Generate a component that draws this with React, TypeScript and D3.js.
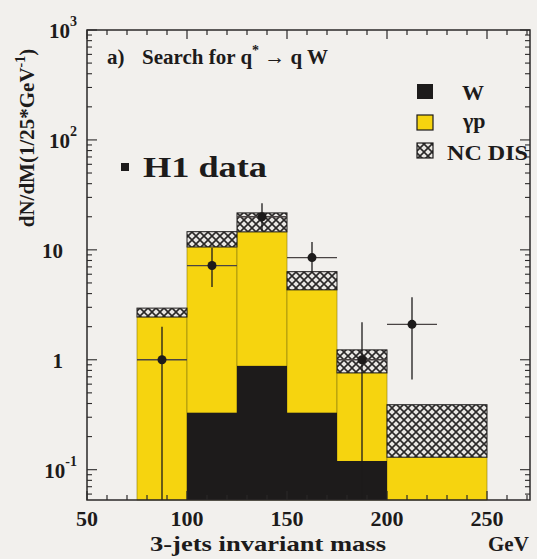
import React from 'react';
import * as d3 from 'd3';

// ————— histogram bins (GeV) —————
const binEdges = [75, 100, 125, 150, 175, 200, 250];
// stacked MC contributions per bin
const wSignal = [0, 0.33, 0.88, 0.33, 0.12, 0];
const gammaP  = [2.45, 10.3, 13.7, 4.0, 0.64, 0.13];
const ncDis   = [0.5, 4.0, 7.1, 2.0, 0.47, 0.26];

// ————— H1 data points —————
const dataMass  = [87.5, 112.5, 137.5, 162.5, 187.5, 212.5];
const dataValue = [1.0, 7.2, 20, 8.5, 1.0, 2.1];
const dataHigh  = [2.0, 10.4, 26.5, 11.8, 2.2, 3.7];
const dataLow   = [0, 4.6, 14.8, 6.2, 0, 0.66];
const massHalfBin = 12.5;

// ————— axes —————
const xTicks = [50, 100, 150, 200, 250];
const yTicks = [0.1, 1, 10, 100, 1000];
const yTickBase = ['10', '1', '10', '10', '10'];
const yTickExp  = ['-1', '', '', '2', '3'];

const FONT = '"Liberation Serif", "Times New Roman", serif';
const YELLOW = '#f6d40f';
const DARK = '#1d1b1b';

const App = () => {
  const fullW = 537;
  const fullH = 559;
  const margin = { top: 30, right: 7, bottom: 59, left: 87 };
  const left = margin.left;
  const right = fullW - margin.right;
  const top = margin.top;
  const bottom = fullH - margin.bottom;

  const x = d3.scaleLinear().domain([50, 271.5]).range([left, right]);
  const y = d3.scaleLog().domain([0.053, 1000]).range([bottom, top]);

  // cumulative stack: W, then gamma-p, then NC DIS on top
  const bins = binEdges.slice(0, -1).map((x0, i) => {
    const w = wSignal[i];
    const g = w + gammaP[i];
    const t = g + ncDis[i];
    return { x0, x1: binEdges[i + 1], w, g, t };
  });

  const yMin = y.domain()[0];
  const yPos = (v: number) => (v <= yMin ? bottom : y(v));

  const minorX = d3.range(50, 272, 10);
  const minorY = y.ticks().filter(v => v >= yMin);

  return (
    <div style={{ position: 'absolute', left: 0, top: 0 }}>
      <svg width={fullW} height={fullH} style={{ display: 'block', background: '#f2f0ed' }}>
        <defs>
          <pattern id="xhatch" width="8" height="8" patternUnits="userSpaceOnUse">
            <rect width="8" height="8" fill="#e9e7e4" />
            <path d="M0,0L8,8M8,0L0,8" stroke="#2a2828" strokeWidth="1.6" />
          </pattern>
        </defs>

        {/* yellow (W + gamma-p) */}
        {bins.map((b, i) => (
          <rect key={'g' + i}
            x={x(b.x0)} width={x(b.x1) - x(b.x0)}
            y={yPos(b.g)} height={bottom - yPos(b.g)}
            fill={YELLOW} stroke="#8a7a10" strokeWidth={0.6} />
        ))}
        {/* NC DIS hatched on top */}
        {bins.map((b, i) => (
          <rect key={'n' + i}
            x={x(b.x0)} width={x(b.x1) - x(b.x0)}
            y={yPos(b.t)} height={yPos(b.g) - yPos(b.t)}
            fill="url(#xhatch)" stroke={DARK} strokeWidth={1} />
        ))}
        {/* W signal */}
        {bins.filter(b => b.w > 0).map((b, i) => (
          <rect key={'w' + i}
            x={x(b.x0)} width={x(b.x1) - x(b.x0)}
            y={yPos(b.w)} height={bottom - yPos(b.w)}
            fill={DARK} />
        ))}

        {/* data points with error bars */}
        {dataMass.map((m, i) => (
          <g key={'d' + i} stroke={DARK} strokeWidth={1.3}>
            <line x1={x(m)} x2={x(m)} y1={yPos(dataHigh[i])} y2={yPos(dataLow[i])} />
            <line x1={x(m - massHalfBin)} x2={x(m + massHalfBin)} y1={y(dataValue[i])} y2={y(dataValue[i])}
              stroke="#4a4444" />
            <circle cx={x(m)} cy={y(dataValue[i])} r={4.5} fill={DARK} stroke="none" />
          </g>
        ))}

        {/* frame */}
        <rect x={left} y={top} width={right - left} height={bottom - top}
          fill="none" stroke="#2b2929" strokeWidth={1.5} />

        {/* x ticks, bottom and top */}
        {minorX.map(v => {
          const len = v % 50 === 0 ? 9 : 5;
          return (
            <g key={'xt' + v} stroke="#2b2929" strokeWidth={1.2}>
              <line x1={x(v)} x2={x(v)} y1={bottom} y2={bottom - len} />
              <line x1={x(v)} x2={x(v)} y1={top} y2={top + len} />
            </g>
          );
        })}
        {/* y ticks, left and right */}
        {minorY.map((v, i) => {
          const major = yTicks.includes(v);
          const len = major ? 10 : 5;
          return (
            <g key={'yt' + i} stroke="#2b2929" strokeWidth={1.1}>
              <line x1={left} x2={left + len} y1={y(v)} y2={y(v)} />
              <line x1={right} x2={right - len} y1={y(v)} y2={y(v)} />
            </g>
          );
        })}

        {/* x tick labels */}
        {xTicks.map(v => (
          <text key={'xl' + v} x={x(v)} y={526} textAnchor="middle"
            fontFamily={FONT} fontWeight="bold" fontSize={22} fill={DARK}>{v}</text>
        ))}
        {/* y tick labels */}
        {yTicks.map((v, i) => (
          <text key={'yl' + i} x={yTickExp[i] ? 77 : 63} y={y(v) + 8} textAnchor="end"
            fontFamily={FONT} fontWeight="bold" fontSize={21} fill={DARK}>
            {yTickBase[i]}
            {yTickExp[i] && <tspan dy={-12} fontSize={14}>{yTickExp[i]}</tspan>}
          </text>
        ))}

        {/* axis titles */}
        <text x={268} y={551} textAnchor="middle" fontFamily={FONT} fontWeight="bold"
          fontSize={21} fill={DARK} textLength={236} lengthAdjust="spacingAndGlyphs">
          3-jets invariant mass
        </text>
        <text x={488} y={551} fontFamily={FONT} fontWeight="bold" fontSize={21} fill={DARK}>GeV</text>
        <text transform="translate(34,138) rotate(-90)" textAnchor="middle" fontFamily={FONT}
          fontWeight="bold" fontSize={21} fill={DARK}>
          dN/dM(1/25*GeV<tspan dy={-9} fontSize={14}>-1</tspan><tspan dy={9}>)</tspan>
        </text>

        {/* panel title */}
        <text x={107} y={64} fontFamily={FONT} fontWeight="bold" fontSize={21} fill={DARK}>a)</text>
        <text x={142} y={64} fontFamily={FONT} fontWeight="bold" fontSize={21} fill={DARK}>
          Search for q<tspan dy={-9} fontSize={14}>*</tspan>
          <tspan dy={9}> → q W</tspan>
        </text>

        {/* H1 data label */}
        <rect x={121} y={163} width={8} height={8} fill={DARK} />
        <text x={143} y={177} fontFamily={FONT} fontWeight="bold" fontSize={30} fill={DARK}
          textLength={124} lengthAdjust="spacingAndGlyphs">H1 data</text>

        {/* legend */}
        <rect x={417} y={84} width={16} height={15} fill={DARK} />
        <text x={462} y={100} fontFamily={FONT} fontWeight="bold" fontSize={22} fill={DARK}>W</text>
        <rect x={417} y={115} width={16} height={15} fill={YELLOW} stroke={DARK} strokeWidth={1.2} />
        <text x={463} y={128} fontFamily={FONT} fontWeight="bold" fontSize={22} fill={DARK}>γp</text>
        <rect x={417} y={143} width={16} height={15} fill="url(#xhatch)" stroke={DARK} strokeWidth={1.2} />
        <text x={447} y={160} fontFamily={FONT} fontWeight="bold" fontSize={22} fill={DARK}
          textLength={81} lengthAdjust="spacingAndGlyphs">NC DIS</text>
      </svg>
    </div>
  );
};

export default App;
